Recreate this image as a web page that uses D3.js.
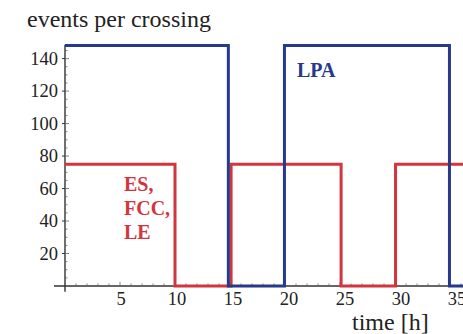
<!DOCTYPE html>
<html>
<head>
<meta charset="utf-8">
<script src="https://cdn.jsdelivr.net/npm/d3@7"></script>
<style>
  html, body { margin: 0; padding: 0; background: #fff; }
  svg { display: block; }
  text { font-family: "Liberation Serif", "DejaVu Serif", serif; }
</style>
</head>
<body>
<svg id="chart" width="463" height="334"></svg>
<script>
// Step profiles: [time in h, events per crossing], held until the next point
const lpaSteps = [[0, 148], [14.85, 0], [19.95, 148], [34.95, 0], [37, 0]];
const esSteps  = [[0, 75], [10, 0], [15.1, 75], [25.1, 0], [30.05, 75], [37, 75]];

const xMajorTicks = [5, 10, 15, 20, 25, 30, 35];
const yMajorTicks = [20, 40, 60, 80, 100, 120, 140];
const xMinorTicks = d3.range(1, 37, 1);
const yMinorTicks = d3.range(5, 150, 5);

const blue = "#26398b";
const red = "#d1353e";
const axisColor = "#333";

const svg = d3.select("#chart");

const x = d3.scaleLinear().domain([0, 35]).range([65, 450]);
const y = d3.scaleLinear().domain([0, 140]).range([286, 58.6]);
// tick labels sit on a slightly wider spacing than the tick marks
const xLabel = d3.scaleLinear().domain([5, 35]).range([121, 457]);

// Axes lines
svg.append("line")
  .attr("x1", x(-1)).attr("x2", 463)
  .attr("y1", y(0)).attr("y2", y(0))
  .attr("stroke", axisColor).attr("stroke-width", 1.4);
svg.append("line")
  .attr("x1", x(0)).attr("x2", x(0))
  .attr("y1", y(-3.6)).attr("y2", y(148.5))
  .attr("stroke", axisColor).attr("stroke-width", 1.4);

// x ticks: minor every hour, major every 5 h
svg.append("g").selectAll("line").data(xMinorTicks).join("line")
  .attr("x1", d => x(d)).attr("x2", d => x(d))
  .attr("y1", y(0)).attr("y2", d => y(0) - (d % 5 === 0 ? 4 : 2.5))
  .attr("stroke", "#666").attr("stroke-width", 0.8);

// y ticks: minor every 5, major every 20
svg.append("g").selectAll("line").data(yMinorTicks).join("line")
  .attr("x1", x(0)).attr("x2", d => x(0) + (d % 20 === 0 ? 4 : 2.5))
  .attr("y1", d => y(d)).attr("y2", d => y(d))
  .attr("stroke", "#666").attr("stroke-width", 0.8);
svg.append("g").selectAll("line").data(yMajorTicks).join("line")
  .attr("x1", x(0) - 3).attr("x2", x(0))
  .attr("y1", d => y(d)).attr("y2", d => y(d))
  .attr("stroke", axisColor).attr("stroke-width", 1);

// Tick labels
svg.append("g").selectAll("text").data(xMajorTicks).join("text")
  .attr("x", d => xLabel(d)).attr("y", 305)
  .attr("text-anchor", "middle")
  .attr("font-size", 18.5).attr("fill", "#222")
  .text(d => d);
svg.append("g").selectAll("text").data(yMajorTicks).join("text")
  .attr("x", 58).attr("y", d => y(d) + 6)
  .attr("text-anchor", "end")
  .attr("font-size", 18.5).attr("fill", "#222")
  .text(d => d);

// Axis titles
svg.append("text").attr("x", 27).attr("y", 27)
  .attr("font-size", 24).attr("fill", "#222").text("events per crossing");
svg.append("text").attr("x", 352).attr("y", 330)
  .attr("font-size", 24).attr("fill", "#222").text("time [h]");

// Step lines
const line = d3.line().x(d => x(d[0])).y(d => y(d[1])).curve(d3.curveStepAfter);
svg.append("path").datum(esSteps)
  .attr("d", line).attr("fill", "none")
  .attr("stroke", red).attr("stroke-width", 3);
svg.append("path").datum(lpaSteps)
  .attr("d", line).attr("fill", "none")
  .attr("stroke", blue).attr("stroke-width", 3);

// Series labels
svg.append("text").attr("x", 297).attr("y", 77)
  .attr("font-size", 20).attr("font-weight", "bold").attr("fill", blue)
  .text("LPA");
const esLabel = ["ES,", "FCC,", "LE"];
svg.append("g").selectAll("text").data(esLabel).join("text")
  .attr("x", 124).attr("y", (d, i) => 191 + i * 24)
  .attr("font-size", 20).attr("font-weight", "bold").attr("fill", red)
  .text(d => d);
</script>
</body>
</html>
